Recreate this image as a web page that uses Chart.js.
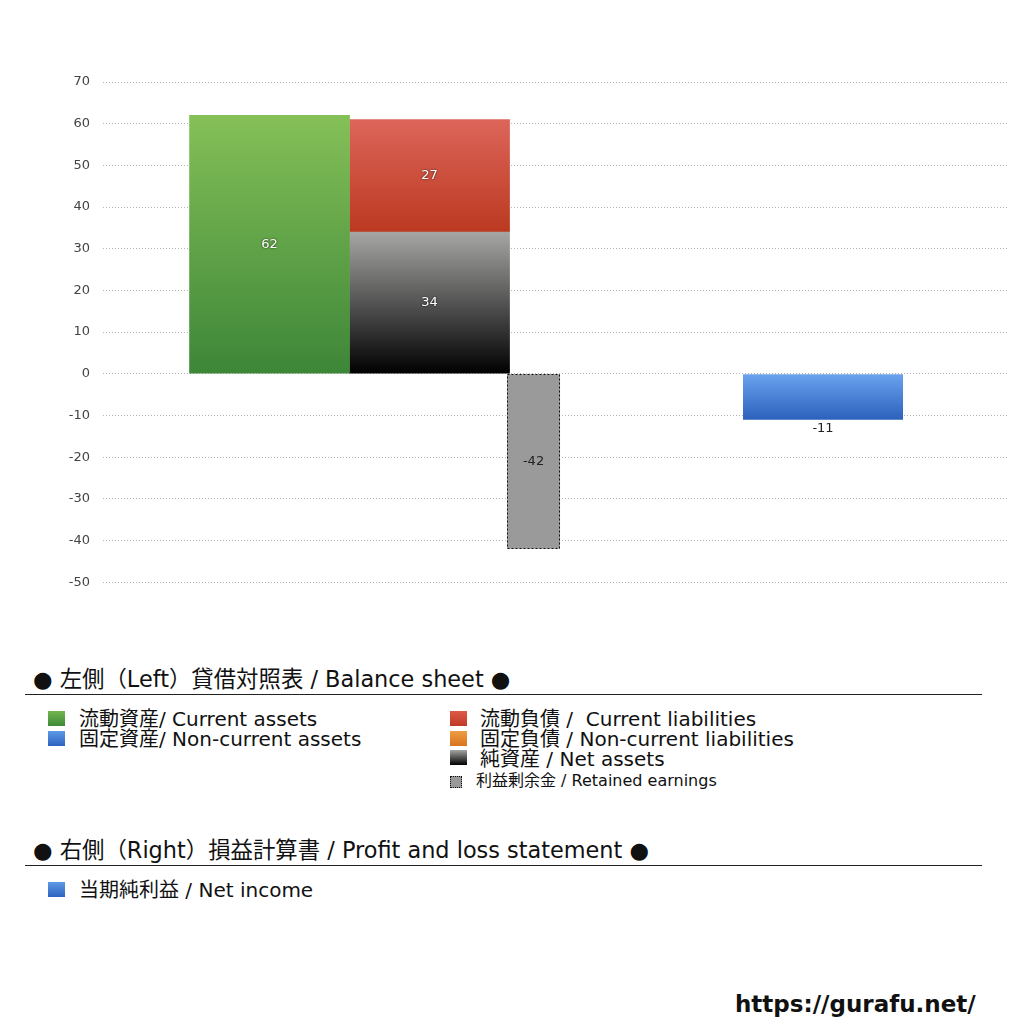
<!DOCTYPE html>
<html lang="ja">
<head>
<meta charset="utf-8">
<title>貸借対照表 / 損益計算書</title>
<script src="https://cdn.jsdelivr.net/npm/chart.js@4.4.1/dist/chart.umd.min.js"></script>
<style>
  body { margin: 0; background: #fff; font-family: 'DejaVu Sans', 'Noto Sans CJK JP', sans-serif; color: #111; }
  #wrap { position: absolute; left: 0; top: 0; width: 1024px; height: 603px; }
  .head { position: absolute; left: 33px; font-size: 22.4px; line-height: 24px; white-space: nowrap; }
  .rule { position: absolute; left: 25px; width: 957px; height: 1px; background: #222; }
  .item { position: absolute; font-size: 20px; line-height: 20px; white-space: nowrap; }
  .small { font-size: 16px; line-height: 18px; }
  .sw { position: absolute; width: 17px; height: 15px; }
  .url { position: absolute; left: 735px; top: 990px; font: bold 23px 'DejaVu Sans', sans-serif; line-height: 28px; }
</style>
</head>
<body>
<div id="wrap"><canvas id="bs"></canvas></div>

<div class="head" style="top:667px">● 左側（Left）貸借対照表 / Balance sheet ●</div>
<div class="rule" style="top:694px"></div>

<span class="sw" style="left:48px;top:711px;background:linear-gradient(#74b550,#3d8a37)"></span>
<div class="item" style="left:79px;top:709px">流動資産/ Current assets</div>
<span class="sw" style="left:48px;top:731px;background:linear-gradient(#5d9ae6,#2d63c0)"></span>
<div class="item" style="left:79px;top:729px">固定資産/ Non-current assets</div>

<span class="sw" style="left:450px;top:711px;background:linear-gradient(#dc5a48,#bf3a26)"></span>
<div class="item" style="left:480px;top:709px">流動負債 /&nbsp; Current liabilities</div>
<span class="sw" style="left:450px;top:731px;background:linear-gradient(#ee9d42,#d9741f)"></span>
<div class="item" style="left:480px;top:729px">固定負債 / Non-current liabilities</div>
<span class="sw" style="left:450px;top:750px;background:linear-gradient(#a5a6a4,#000)"></span>
<div class="item" style="left:480px;top:749px">純資産 / Net assets</div>
<span class="sw" style="left:450px;top:776px;width:10px;height:10px;background:#999;border:1px dotted #111"></span>
<div class="item small" style="left:476px;top:772px">利益剰余金 / Retained earnings</div>

<div class="head" style="top:838px">● 右側（Right）損益計算書 / Profit and loss statement ●</div>
<div class="rule" style="top:865px"></div>
<span class="sw" style="left:48px;top:882px;background:linear-gradient(#5d9ae6,#2d63c0)"></span>
<div class="item" style="left:79px;top:880px">当期純利益 / Net income</div>

<div class="url">https://gurafu.net/</div>

<script>
// values (百万円)
const categories = ['貸借対照表', '損益計算書'];
const currentAssets = [62, null];
const netAssets = [34, null];
const currentLiabilities = [27, null];
const retainedEarnings = [null, -42];
const netIncome = [null, -11];
const yMin = -50, yMax = 70, yStep = 10;

// the x axis is a row of empty slots; each category sits on one of them
const SLOTS = 12, FIRST = 3, GAP = 4;
const slotLabels = Array(SLOTS).fill('');
categories.forEach((c, i) => { slotLabels[FIRST + i * GAP] = c; });
const spread = arr => {
  const out = Array(SLOTS).fill(null);
  arr.forEach((v, i) => { out[FIRST + i * GAP] = v; });
  return out;
};
const catOf = slot => (slot - FIRST) / GAP;

// vertical gradient between two values of the y scale
function vGrad(c, lo, hi, light, dark) {
  const chart = c.chart, y = chart.scales.y;
  const i = catOf(c.dataIndex);
  if (!y || !chart.chartArea || lo[i] == null) return dark;
  const a = y.getPixelForValue(lo[i]), b = y.getPixelForValue(hi[i]);
  const top = Math.min(a, b), bottom = Math.max(a, b);
  if (!(bottom > top)) return dark;
  const g = chart.ctx.createLinearGradient(0, top, 0, bottom);
  g.addColorStop(0, light);
  g.addColorStop(1, dark);
  return g;
}
const zeros = categories.map(() => 0);
const creditTop = netAssets.map((v, i) => v == null ? null : v + currentLiabilities[i]);

const valueLabels = {
  id: 'valueLabels',
  afterDatasetsDraw(chart) {
    const ctx = chart.ctx;
    chart.data.datasets.forEach((ds, di) => {
      chart.getDatasetMeta(di).data.forEach((bar, i) => {
        const v = ds.data[i];
        if (v == null) return;
        const p = bar.getProps(['x', 'y', 'base', 'width'], true);
        ctx.save();
        if (ds.dotted) {
          ctx.setLineDash([2, 2]);
          ctx.strokeStyle = '#111';
          ctx.lineWidth = 1;
          const l = Math.round(p.x - p.width / 2) + 0.5;
          const t = Math.round(Math.min(p.y, p.base)) + 0.5;
          ctx.strokeRect(l, t, Math.round(p.width) - 1, Math.round(Math.abs(p.base - p.y)) - 1);
          ctx.setLineDash([]);
        }
        ctx.font = '13px "DejaVu Sans", sans-serif';
        ctx.textAlign = 'center';
        ctx.textBaseline = 'middle';
        let ty = (p.y + p.base) / 2;
        if (ds.labelPos === 'below') ty = p.y + 9;
        if (ds.labelLight) {
          ctx.shadowColor = 'rgba(0,0,0,0.85)';
          ctx.shadowBlur = 2;
          ctx.fillStyle = '#fff';
        } else {
          ctx.fillStyle = '#222';
        }
        ctx.fillText(String(v), p.x, ty);
        ctx.restore();
      });
    });
  }
};

new Chart(document.getElementById('bs'), {
  type: 'bar',
  data: {
    labels: slotLabels,
    datasets: [
      {
        label: '流動資産', data: spread(currentAssets), stack: 'left', barThickness: 160,
        backgroundColor: c => vGrad(c, zeros, currentAssets, '#85c058', '#3d8638'),
        labelLight: true
      },
      {
        label: '純資産', data: spread(netAssets), stack: 'right', barThickness: 160,
        backgroundColor: c => vGrad(c, zeros, netAssets, '#a6a7a5', '#000000'),
        labelLight: true
      },
      {
        label: '流動負債', data: spread(currentLiabilities), stack: 'right', barThickness: 160,
        backgroundColor: c => vGrad(c, netAssets, creditTop, '#dd655a', '#bb3920'),
        labelLight: true
      },
      {
        label: '利益剰余金', data: spread(retainedEarnings), stack: 'retained',
        categoryPercentage: 7.045, barPercentage: 1, maxBarThickness: 53,
        backgroundColor: '#9a9a9a', dotted: true
      },
      {
        label: '当期純利益', data: spread(netIncome), stack: 'pl',
        categoryPercentage: 7.045, barPercentage: 1, maxBarThickness: 160,
        backgroundColor: c => vGrad(c, zeros, netIncome, '#6aa3ee', '#2d61bd'),
        labelPos: 'below'
      }
    ]
  },
  options: {
    responsive: true,
    maintainAspectRatio: false,
    animation: false,
    datasets: { bar: { skipNull: true, borderWidth: 0 } },
    layout: { padding: { left: 67, right: 17, top: 82, bottom: 18 } },
    plugins: { legend: { display: false }, tooltip: { enabled: false } },
    scales: {
      x: { display: false, offset: false },
      y: {
        stacked: true,
        min: yMin, max: yMax,
        afterFit: s => { s.width = 36; },
        ticks: { stepSize: yStep, padding: 13, color: '#444', font: { family: '"DejaVu Sans", sans-serif', size: 13 } },
        grid: { color: '#b5b5b5', drawTicks: false },
        border: { display: false, dash: [1, 2] }
      }
    }
  },
  plugins: [valueLabels]
});
</script>
</body>
</html>
